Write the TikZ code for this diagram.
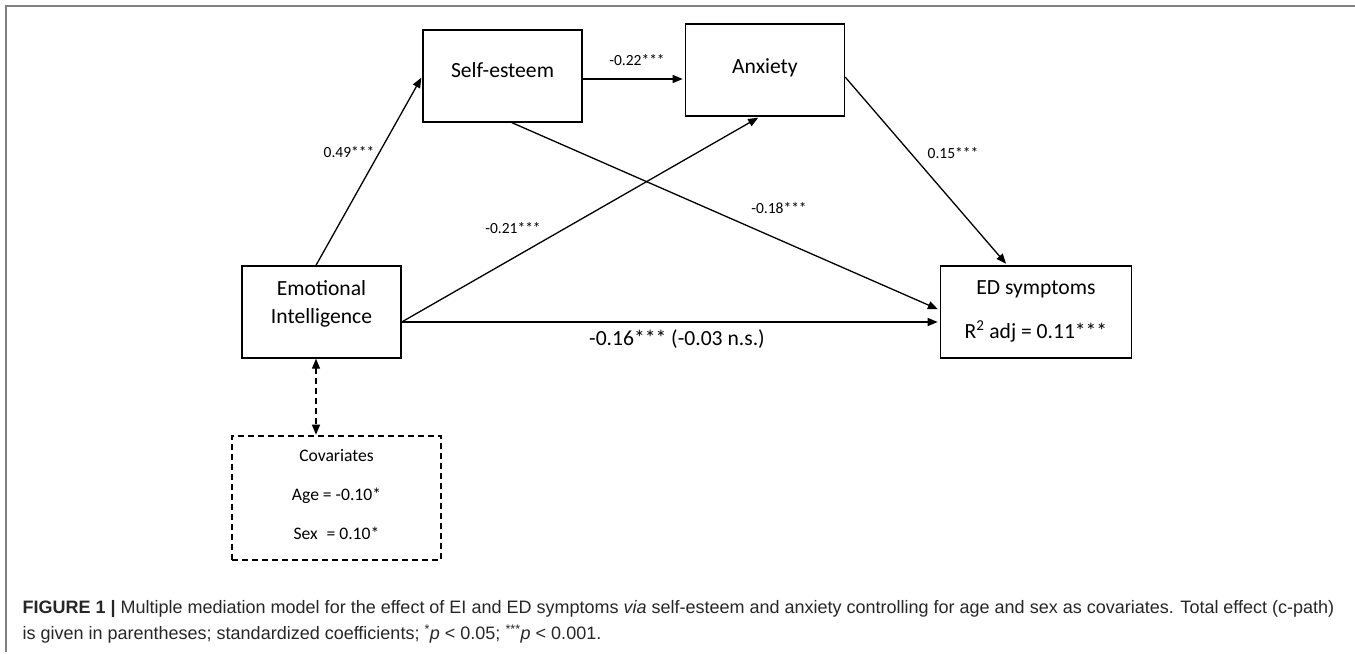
\documentclass[tikz,border=0pt]{standalone}
\usepackage{fontspec}
\setmainfont{Carlito}
\newfontfamily\capfont{Liberation Sans}
\usetikzlibrary{arrows.meta, positioning}

\begin{document}
\begin{tikzpicture}[x=1pt,y=-1pt,line width=1.3pt,shorten >=2pt,
    >={Triangle[length=10pt,width=8pt]}]
  \tikzset{var/.style={draw,line width=1.4pt,minimum width=159pt,minimum height=92pt,
      inner sep=0pt,align=center,font=\fontsize{21.6}{28}\selectfont}}
  \tikzset{coef/.style={inner sep=0pt,font=\fontsize{15.5}{18}\selectfont}}

  \useasboundingbox (0,0) rectangle (1355,654);
  \draw[line width=2pt,gray] (1355,6) -- (6,6) -- (6,654);

  \node[var,text depth=21pt]                  (ei)  at (321.5,312)            {Emotional\\Intelligence};
  \node[var,text depth=13pt]                  (se)  at (502.5,76)             {Self-esteem};
  \node[var,text depth=7pt]                   (anx) [right=102pt of se,yshift=6pt] {Anxiety};
  \node[var,minimum width=191pt,text depth=5pt,font=\fontsize{21.6}{44}\selectfont]
                                              (ed)  [right=538pt of ei]       {ED symptoms\\R\textsuperscript{2} adj = 0.11***};
  \node[var,dashed,line width=1.8pt,dash pattern=on 6pt off 4pt,minimum width=209pt,
        minimum height=124pt,text depth=6pt,font=\fontsize{17.6}{39}\selectfont]
                                              (cov) [below=76pt of ei,xshift=15pt] {Covariates\\Age = -0.10*\\Sex\enspace= 0.10*};

  \draw[->] ([xshift=-5.5pt]ei.north) -- (se.west);
  \draw[->] ([yshift=-3pt]se.east) -- ([yshift=-3pt]se.east -| anx.west);
  \draw[->] ([yshift=-10pt]ei.east) -- ([xshift=-5pt]anx.south);
  \draw[->] ([xshift=9.5pt]se.south) -- ([yshift=2pt]ed.west);
  \draw[->] ([yshift=-10pt]ei.east) -- ([yshift=-10pt]ei.east -| ed.west);
  \draw[->] ([yshift=-7pt]anx.east) -- ([xshift=-28.5pt]ed.north);
  \draw[<->,dash pattern=on 6pt off 4pt,shorten >=0pt] ([xshift=-5.5pt]ei.south) -- ([xshift=-5.5pt]ei.south |- cov.north);

  \node[coef] (c_a)  at (349,152) {0.49***};
  \node[coef] (c_d)  at (637,60)  {-0.22***};
  \node[coef] (c_b)  at (513,228) {-0.21***};
  \node[coef] (c_e)  at (779,208) {-0.18***};
  \node[coef] (c_f)  at (953,153) {0.15***};
  \node[inner sep=0pt,font=\fontsize{21.6}{28}\selectfont] (c_tot) at (677,339) {-0.16*** (-0.03 n.s.)};

  \node[anchor=base west,inner sep=0pt,align=left,text=black!85,
        font=\capfont\fontsize{18}{26}\selectfont] (caption) at (22,639.5)
    {{\bfseries FIGURE 1 |} Multiple mediation model for the effect of EI and ED symptoms \textit{via} self-esteem and anxiety controlling for age and sex as covariates. Total effect (c-path)\\
     is given in parentheses; standardized coefficients; \textsuperscript{*}\textit{p} < 0.05; \textsuperscript{***}\textit{p} < 0.001.};
\end{tikzpicture}
\end{document}
